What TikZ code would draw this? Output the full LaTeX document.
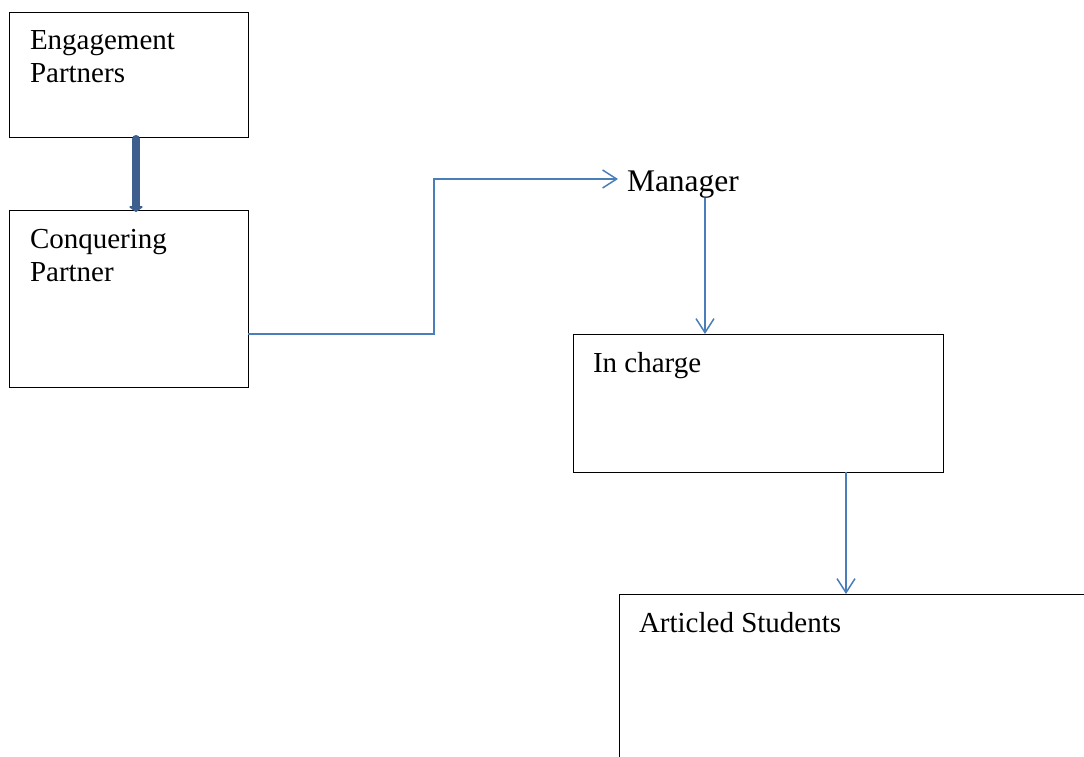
\documentclass[tikz,border=0pt]{standalone}
\usepackage{fontspec}
\setmainfont{Liberation Serif}
\usetikzlibrary{arrows.meta}
\definecolor{thinblue}{HTML}{4A7EBB}
\definecolor{thickblue}{HTML}{3C5F8E}
\begin{document}
\begin{tikzpicture}[x=1pt,y=-1pt,
  box/.style={draw=black, line width=1pt, inner sep=0pt, outer sep=0pt, anchor=north west},
  lbl/.style={anchor=north west, inner sep=0pt, outer sep=0pt, align=left, font=\fontsize{29}{33}\selectfont},
  conn/.style={draw=thinblue, line width=1.5pt, -{Straight Barb[length=14pt,width=18pt]}},
  thickarrow/.style={draw=thickblue, line width=8pt, line cap=round, -{Triangle[length=6pt,width=16pt,round]}}]
\useasboundingbox (0,0) rectangle (1084,756);
% boxes
\node[box, minimum width=239pt, minimum height=125pt] (ep) at (9,12) {};
\node[box, minimum width=239pt, minimum height=177pt] (cp) at (9,210) {};
\node[box, minimum width=370pt, minimum height=138pt] (ic) at (573,334) {};
\node[box, minimum width=480pt, minimum height=190pt] (as) at (619,594) {};
% labels
\node[lbl] (eptxt) at (30,31) {Engagement\\Partners};
\node[lbl] (cptxt) at (30,229) {Conquering\\Partner};
\node[lbl] (ictxt) at (593,352) {In charge};
\node[lbl] (astxt) at (639,612) {Articled Students};
\node[anchor=north west, inner sep=0pt, outer sep=0pt, font=\fontsize{31.5}{35}\selectfont] (mgr) at (627,171) {Manager};
% connectors
\draw[thickarrow] ([xshift=7.5pt,yshift=-2pt]ep.south) -- ([xshift=7.5pt,yshift=-2pt]ep.south |- cp.north);
\draw[conn] ([yshift=-35.5pt]cp.east) -- ++(186,0) |- ([xshift=-9pt,yshift=-8pt]mgr.north west);
\draw[conn] ([xshift=-53pt]ic.north |- mgr.south) -- ([xshift=-53pt]ic.north);
\draw[conn] ([xshift=88pt]ic.south) -- ([xshift=88pt]ic.south |- as.north);
\end{tikzpicture}
\end{document}
